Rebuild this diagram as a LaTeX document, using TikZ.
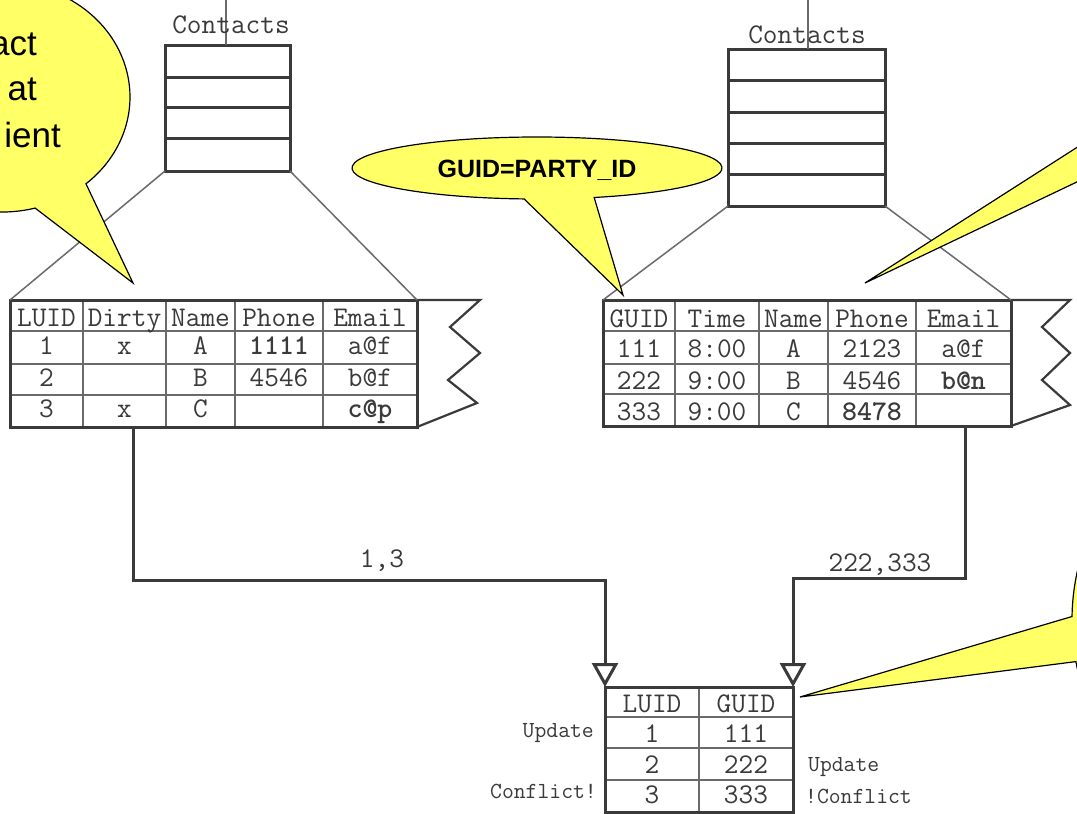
\documentclass[tikz,border=0pt]{standalone}
\usepackage{fontspec}
\usepackage{tikz}
\usetikzlibrary{arrows.meta}
\newfontfamily\calloutfont{Liberation Sans}
\definecolor{noteyellow}{HTML}{FFFF66}
\definecolor{inkgray}{HTML}{3A3A3A}
\definecolor{rulegray}{HTML}{6A6A6A}

\begin{document}
\begin{tikzpicture}[x=1pt, y=-1pt,
    boxed/.style 2 args={draw=inkgray, line width=3pt, minimum width=#1, minimum height=#2, inner sep=0pt, outer sep=0pt},
    thinline/.style={draw=rulegray, line width=1.5pt},
    thickline/.style={draw=inkgray, line width=3pt},
    cell/.style={font=\fontsize{28.5}{30}\selectfont\ttfamily, text=inkgray, inner sep=0pt, anchor=base},
    sidelabel/.style={font=\fontsize{23}{24}\selectfont\ttfamily, text=inkgray, inner sep=0pt},
    flow/.style={draw=inkgray, line width=3pt, -{Triangle[open, width=26pt, length=24pt]}},
    callout/.style={fill=noteyellow, draw=black, line width=1.2pt},
    calltext/.style={font=\calloutfont, inner sep=0pt}]
    \useasboundingbox (0,0) rectangle (1077,814);
    \fill[white] (0,0) rectangle (1077,814);
    \clip (0,0) rectangle (1077,814);

    % the two Contacts stacks
    \coordinate (lfeed) at (226,0);
    \coordinate (rfeed) at (808,0);
    \node[boxed={125pt}{126pt}] (lstack) at (227.5,108) {};
    \node[boxed={157pt}{157pt}] (rstack) at (806.5,127.5) {};
    \draw[thinline] (lfeed) -- (lfeed |- lstack.north) (rfeed) -- (rfeed |- rstack.north);
    \node[cell] (lname) at (231,33) {Contacts};
    \node[cell] (rname) at (807,43) {Contacts};
    \draw[thickline] (165,77) -- (290,77) (165,107) -- (290,107) (165,138) -- (290,138);
    \draw[thickline] (728,80) -- (885,80) (728,112) -- (885,112) (728,143) -- (885,143) (728,174) -- (885,174);

    % client table
    \draw[thinline] (10,331) -- (417,331) (10,364) -- (417,364) (10,395) -- (417,395)
        (83,300) -- (83,427) (166,300) -- (166,427) (235,300) -- (235,427) (323,300) -- (323,427);
    \node[boxed={407pt}{127pt}] (ltable) at (213.5,363.5) {};
    \draw[thickline, line width=2.2pt] (ltable.north east) -- (480,300) -- (450,327) -- (480,353) -- (448,380) -- (477,403) -- (ltable.south east);
    \draw[thinline] (lstack.south west) -- (ltable.north west) (lstack.south east) -- (ltable.north east);
    \draw[every node/.style={cell}]
        (46.5,326) node (l-0-1) {LUID} (124.5,326) node (l-0-2) {Dirty} (200.5,326) node (l-0-3) {Name} (279,326) node (l-0-4) {Phone} (370,326) node (l-0-5) {Email}
        (46.5,354) node (l-1-1) {1} (124.5,354) node (l-1-2) {x} (200.5,354) node (l-1-3) {A} (279,354) node (l-1-4) {\textbf{1111}} (370,354) node (l-1-5) {a@f}
        (46.5,386) node (l-2-1) {2} (200.5,386) node (l-2-3) {B} (279,386) node (l-2-4) {4546} (370,386) node (l-2-5) {b@f}
        (46.5,417) node (l-3-1) {3} (124.5,417) node (l-3-2) {x} (200.5,417) node (l-3-3) {C} (370,417) node (l-3-5) {\textbf{c@p}};

    % server table
    \draw[thinline] (603,331) -- (1011,331) (603,364) -- (1011,364) (603,394) -- (1011,394)
        (675,300) -- (675,426) (759,300) -- (759,426) (828,300) -- (828,426) (916,300) -- (916,426);
    \node[boxed={408pt}{126pt}] (rtable) at (807,363) {};
    \draw[thickline, line width=2.2pt] (rtable.north east) -- (1070,300) -- (1042,327) -- (1070,353) -- (1042,380) -- (1070,405) -- (rtable.south east);
    \draw[thinline] (rstack.south west) -- (rtable.north west) (rstack.south east) -- (rtable.north east);
    \draw[every node/.style={cell}]
        (639,327) node (r-0-1) {GUID} (717,327) node (r-0-2) {Time} (793.5,327) node (r-0-3) {Name} (872,327) node (r-0-4) {Phone} (963.5,327) node (r-0-5) {Email}
        (639,357) node (r-1-1) {111} (717,357) node (r-1-2) {8:00} (793.5,357) node (r-1-3) {A} (872,357) node (r-1-4) {2123} (963.5,357) node (r-1-5) {a@f}
        (639,389) node (r-2-1) {222} (717,389) node (r-2-2) {9:00} (793.5,389) node (r-2-3) {B} (872,389) node (r-2-4) {4546} (963.5,389) node (r-2-5) {\textbf{b@n}}
        (639,420) node (r-3-1) {333} (717,420) node (r-3-2) {9:00} (793.5,420) node (r-3-3) {C} (872,420) node (r-3-4) {\textbf{8478}};

    % mapping table
    \draw[thinline] (605,717) -- (793,717) (605,748) -- (793,748) (605,780) -- (793,780) (699,687) -- (699,812);
    \node[boxed={188pt}{125pt}] (mtable) at (699,749.5) {};
    \draw[every node/.style={cell}]
        (652,712) node (m-0-1) {LUID} (746,712) node (m-0-2) {GUID}
        (652,742) node (m-1-1) {1} (746,742) node (m-1-2) {111}
        (652,773) node (m-2-1) {2} (746,773) node (m-2-2) {222}
        (652,803) node (m-3-1) {3} (746,803) node (m-3-2) {333};
    \node[sidelabel, anchor=base east] (lupd) at (594,737) {Update};
    \node[sidelabel, anchor=base east] (lconf) at (597,798) {Conflict!};
    \node[sidelabel, anchor=base west] (rupd) at (808,771) {Update};
    \node[sidelabel, anchor=base west] (rconf) at (805,803) {!Conflict};

    % changed rows to the mapping
    \coordinate (lout) at (133,427);
    \coordinate (rout) at (965,426);
    \draw[flow] (lout) -- ++(0,153) -| (mtable.north west);
    \draw[flow] (rout) -- ++(0,152) -| (mtable.north east);
    \node[cell] (lids) at (382,567) {1,3};
    \node[cell] (gids) at (880,571) {222,333};

    % callouts
    \filldraw[callout] ({2+128*cos(49)},{97+115*sin(49)}) -- (133,283) -- ({2+128*cos(75)},{97+115*sin(75)})
        arc[start angle=75, end angle=409, x radius=128, y radius=115] -- cycle;
    \node[calltext, font=\calloutfont\fontsize{35}{40}\selectfont, anchor=base east] (note-a) at (37,55) {act};
    \node[calltext, font=\calloutfont\fontsize{35}{40}\selectfont, anchor=base east] (note-b) at (37,100) {at};
    \node[calltext, font=\calloutfont\fontsize{35}{40}\selectfont, anchor=base east] (note-c) at (61,147) {ient};

    \filldraw[callout] ({537+185*cos(72)},{168+31*sin(72)}) -- (623,295) -- ({537+185*cos(94)},{168+31*sin(94)})
        arc[start angle=94, end angle=432, x radius=185, y radius=31] -- cycle;
    \node[calltext, font=\calloutfont\bfseries\fontsize{25}{28}\selectfont, anchor=base] (note-guid) at (537,177) {GUID=PARTY\_ID};

    \filldraw[callout] ({1250+160*cos(159)},{100+90*sin(159)}) -- (865,283) -- ({1250+160*cos(140)},{100+90*sin(140)})
        arc[start angle=140, end angle=-201, x radius=160, y radius=90] -- cycle;

    \filldraw[callout] ({1250+178*cos(181)},{620+200*sin(181)}) -- (800,697) -- ({1250+178*cos(168)},{620+200*sin(168)})
        arc[start angle=168, end angle=-179, x radius=178, y radius=200] -- cycle;
\end{tikzpicture}
\end{document}
